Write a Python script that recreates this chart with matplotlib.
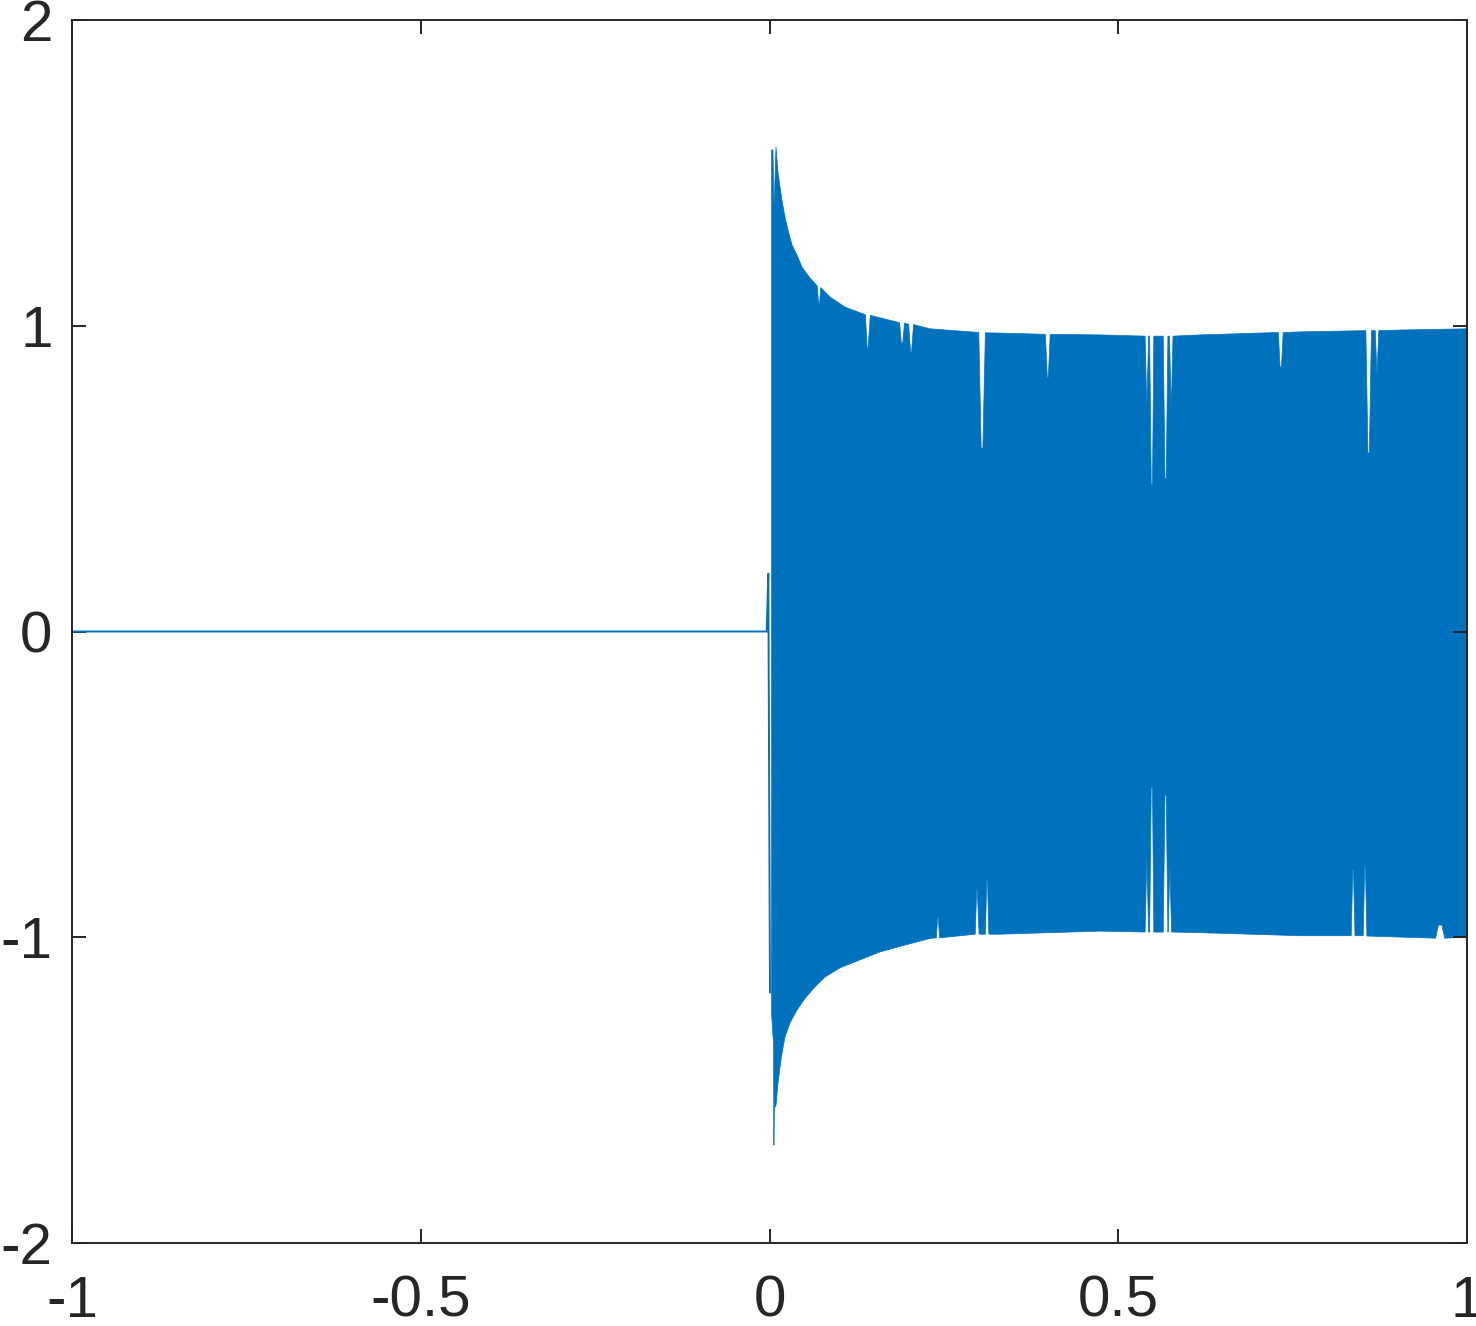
import matplotlib
matplotlib.use("Agg")
import matplotlib.pyplot as plt
import numpy as np

# --- data ---
# quiet part of the signal (line)
line_x = [-1.0, -0.5, -0.006, -0.0040, -0.0017, 0.0007]
line_y = [0.0, 0.0, 0.0, 0.0, 0.19, -1.18]

# upper envelope of the dense oscillation (x, y)
upper_x = [0.0030, 0.0050, 0.0062, 0.0068, 0.0093, 0.0122, 0.0151, 0.0179, 0.0222,
           0.0265, 0.0323, 0.0394, 0.0466, 0.0581, 0.0685, 0.0703, 0.0718, 0.0735,
           0.0867, 0.1082, 0.1375, 0.1400, 0.1414, 0.1445, 0.1865, 0.1890, 0.1910,
           0.1935, 0.1995, 0.2023, 0.2037, 0.2065, 0.2300, 0.3000, 0.3035, 0.3059,
           0.3095, 0.3300, 0.3955, 0.3983, 0.3997, 0.4025, 0.4740, 0.5385, 0.5410,
           0.5435, 0.5450, 0.5473, 0.5491, 0.5510, 0.5645, 0.5670, 0.5688, 0.5712,
           0.5735, 0.5760, 0.5785, 0.6170, 0.7295, 0.7320, 0.7340, 0.7365, 0.7610,
           0.8550, 0.8580, 0.8600, 0.8630, 0.8685, 0.8710, 0.8735, 0.9040, 1.0000]
upper_y = [1.575, 1.575, 1.40, 1.40, 1.585, 1.50, 1.454, 1.41, 1.356,
           1.313, 1.264, 1.231, 1.192, 1.156, 1.130, 1.074, 1.074, 1.125,
           1.094, 1.061, 1.036, 0.927, 0.927, 1.034, 1.010, 0.943, 0.943,
           1.008, 1.005, 0.914, 0.914, 1.004, 0.990, 0.978, 0.600, 0.600,
           0.977, 0.976, 0.972, 0.830, 0.830, 0.972, 0.970, 0.966, 0.730,
           0.966, 0.966, 0.480, 0.480, 0.966, 0.966, 0.500, 0.500, 0.966,
           0.966, 0.720, 0.966, 0.970, 0.978, 0.865, 0.865, 0.978, 0.980,
           0.984, 0.584, 0.584, 0.984, 0.984, 0.835, 0.984, 0.986, 0.990]

# lower envelope of the dense oscillation (x, y)
lower_x = [0.0030, 0.0058, 0.0063, 0.0069, 0.0093, 0.0122, 0.0151, 0.0179, 0.0222,
           0.0294, 0.0394, 0.0509, 0.0652, 0.0796, 0.1011, 0.1297, 0.1584, 0.1870,
           0.2300, 0.2392, 0.2410, 0.2420, 0.2438, 0.2950, 0.2970, 0.2980, 0.3005,
           0.3095, 0.3115, 0.3125, 0.3145, 0.3300, 0.4740, 0.5385, 0.5410, 0.5435,
           0.5450, 0.5473, 0.5491, 0.5510, 0.5645, 0.5670, 0.5688, 0.5712, 0.5715,
           0.5740, 0.5765, 0.6170, 0.7610, 0.8340, 0.8362, 0.8372, 0.8395, 0.8512,
           0.8534, 0.8544, 0.8565, 0.9550, 0.9590, 0.9640, 0.9680, 1.0000]
lower_y = [-1.25, -1.35, -1.68, -1.56, -1.55, -1.477, -1.424, -1.38, -1.326,
           -1.28, -1.238, -1.20, -1.162, -1.13, -1.10, -1.074, -1.048, -1.03,
           -1.004, -1.002, -0.935, -0.935, -1.002, -0.990, -0.846, -0.846, -0.990,
           -0.990, -0.810, -0.810, -0.990, -0.990, -0.980, -0.983, -0.740, -0.983,
           -0.983, -0.510, -0.510, -0.983, -0.983, -0.535, -0.535, -0.983, -0.983,
           -0.770, -0.983, -0.985, -0.995, -0.995, -0.780, -0.780, -0.995, -0.995,
           -0.766, -0.766, -0.996, -1.003, -0.960, -0.960, -1.003, -1.000]

xticks = [-1, -0.5, 0, 0.5, 1]
xticklabels = ["-1", "-0.5", "0", "0.5", "1"]
yticks = [-2, -1, 0, 1, 2]
yticklabels = ["-2", "-1", "0", "1", "2"]

# --- style ---
blue = "#0072BD"
axc = "#262626"
plt.rcParams["font.family"] = ["Liberation Sans", "DejaVu Sans"]
plt.rcParams["axes.unicode_minus"] = False

fig = plt.figure(figsize=(14.76, 13.26), dpi=100)
ax = fig.add_axes([72 / 1476, 1 - 1243 / 1326, 1395 / 1476, 1223 / 1326])

ax.plot(line_x, line_y, color=blue, lw=1.4, solid_joinstyle="miter")
poly_x = np.concatenate([upper_x, lower_x[::-1]])
poly_y = np.concatenate([upper_y, lower_y[::-1]])
ax.fill(poly_x, poly_y, color=blue, lw=0.5, ec=blue)

ax.set_xlim(-1, 1)
ax.set_ylim(-2, 2)
ax.set_xticks(xticks)
ax.set_xticklabels(xticklabels)
ax.set_yticks(yticks)
ax.set_yticklabels(yticklabels)

for s in ax.spines.values():
    s.set_color(axc)
    s.set_linewidth(1.4)
ax.tick_params(direction="in", length=10, width=1.4, colors=axc,
               top=True, right=True, labelsize=42)
ax.tick_params(axis="x", pad=23)
ax.tick_params(axis="y", pad=14)

fig.savefig("out.png", dpi=100)
